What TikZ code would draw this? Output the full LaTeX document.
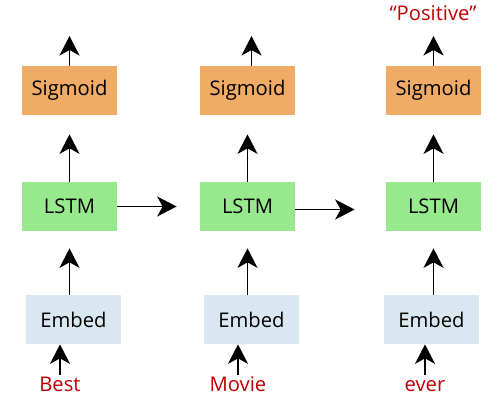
\documentclass[tikz,border=0pt]{standalone}
\usepackage{fontspec}
\setmainfont{Open Sans}
\usepackage{tikz}
\usetikzlibrary{arrows.meta}

\definecolor{sigorange}{HTML}{F0AB67}
\definecolor{lstmgreen}{HTML}{98E98E}
\definecolor{embblue}{HTML}{D9E8F0}
\definecolor{wordred}{HTML}{C00000}

\begin{document}
\begin{tikzpicture}[
  layerbox/.style={minimum width=1.9cm, minimum height=0.98cm,
    inner sep=0pt, font=\fontsize{11.5}{13}\selectfont},
  sigbox/.style={layerbox, fill=sigorange},
  lstmbox/.style={layerbox, fill=lstmgreen},
  embbox/.style={layerbox, fill=embblue},
  wordlabel/.style={text=wordred, inner sep=1pt, text height=1.5ex, text depth=0.4ex,
    font=\fontsize{11.5}{13}\selectfont},
  flowarrow/.style={-{Stealth[length=3.9mm, width=4mm, inset=1.1mm]}, line width=1.1pt}
]
\useasboundingbox (0,0) rectangle (10,8);
\node[sigbox] (sig1) at (1.39,6.19) {Sigmoid};
\node[sigbox] (sig2) at (4.95,6.19) {Sigmoid};
\node[sigbox] (sig3) at (8.67,6.19) {Sigmoid};
\node[lstmbox] (lstm1) at (1.39,3.87) {LSTM};
\node[lstmbox] (lstm2) at (4.95,3.87) {LSTM};
\node[lstmbox] (lstm3) at (8.67,3.87) {LSTM};
\node[embbox] (emb1) at (1.47,1.61) {Embed};
\node[embbox] (emb2) at (5.03,1.61) {Embed};
\node[embbox] (emb3) at (8.63,1.61) {Embed};
\node[wordlabel] (best) at (1.20,0.27) {Best};
\node[wordlabel] (movie) at (4.76,0.27) {Movie};
\node[wordlabel] (ever) at (8.50,0.27) {ever};
\node[wordlabel] (positive) at (8.66,7.70) {“Positive”};
\coordinate (out1) at (1.39,7.28);
\coordinate (out2) at (5.03,7.28);
\coordinate (out3) at (8.67,7.28);
\draw[flowarrow] (best.north) -- (best.north |- emb1.south);
\draw[flowarrow] (movie.north) -- (movie.north |- emb2.south);
\draw[flowarrow] (ever.north) -- (ever.north |- emb3.south);
\draw[flowarrow, shorten >=0.34cm] (emb1.north -| lstm1) -- (lstm1.south);
\draw[flowarrow, shorten >=0.34cm] (emb2.north -| lstm2) -- (lstm2.south);
\draw[flowarrow, shorten >=0.34cm] (emb3.north -| lstm3) -- (lstm3.south);
\draw[flowarrow, shorten >=0.38cm] (lstm1.north) -- (sig1.south);
\draw[flowarrow, shorten >=0.38cm] (lstm2.north) -- (sig2.south);
\draw[flowarrow, shorten >=0.38cm] (lstm3.north) -- (sig3.south);
\draw[flowarrow] (sig1.north) -- (out1);
\draw[flowarrow] (sig2.north -| out2) -- (out2);
\draw[flowarrow] (sig3.north) -- (out3);
\draw[flowarrow, shorten >=0.46cm] (lstm1.east) -- (lstm2.west);
\draw[flowarrow, shorten >=0.62cm] ([yshift=-0.06cm]lstm2.east) -- ([yshift=-0.06cm]lstm3.west);
\end{tikzpicture}
\end{document}
